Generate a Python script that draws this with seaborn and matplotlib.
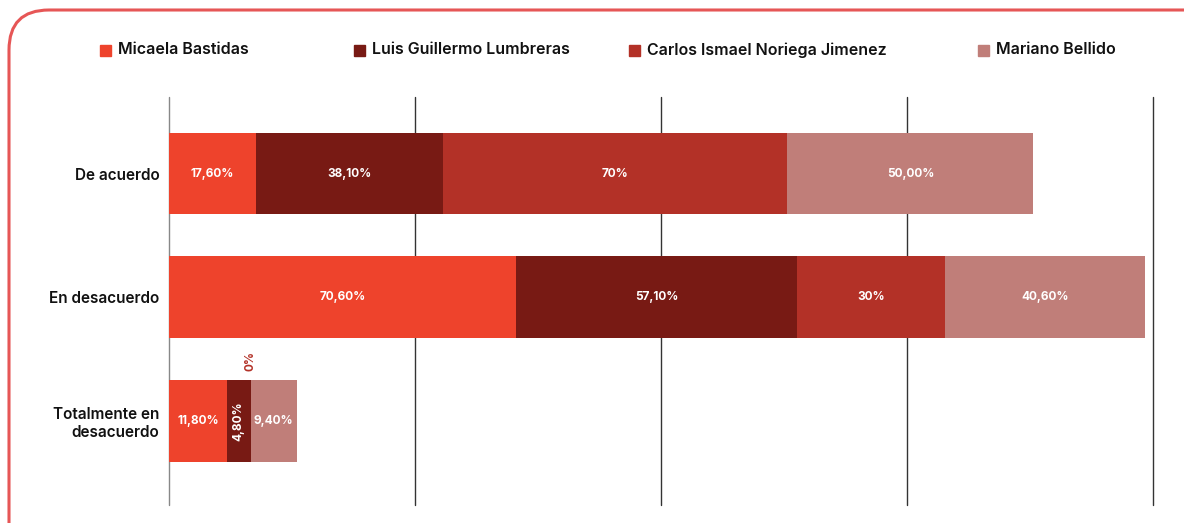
import numpy as np
import pandas as pd
import matplotlib.pyplot as plt
import seaborn as sns
from matplotlib.patches import FancyBboxPatch, Rectangle
from matplotlib.transforms import IdentityTransform

categories = ['De acuerdo', 'En desacuerdo', 'Totalmente en\ndesacuerdo']
series = ['Micaela Bastidas', 'Luis Guillermo Lumbreras',
          'Carlos Ismael Noriega Jimenez', 'Mariano Bellido']
micaela = [17.6, 70.6, 11.8]
luis = [38.1, 57.1, 4.8]
carlos = [70.0, 30.0, 0.0]
mariano = [50.0, 40.6, 9.4]
labels = [['17,60%', '70,60%', '11,80%'],
          ['38,10%', '57,10%', '4,80%'],
          ['70%', '30%', '0%'],
          ['50,00%', '40,60%', '9,40%']]
colors = ['#ee432c', '#781a14', '#b33127', '#c07e79']

sns.set_theme(style='white')
plt.rcParams['font.family'] = ['Inter', 'DejaVu Sans']

df = pd.DataFrame({'cat': categories, series[0]: micaela, series[1]: luis,
                   series[2]: carlos, series[3]: mariano})
vals = df[series].values
cum = vals.cumsum(axis=1)

fig = plt.figure(figsize=(11.84, 5.23), dpi=100)
ax = fig.add_axes([169 / 1184, 1 - 505 / 523, (1153 - 169) / 1184, (505 - 97) / 523])

# stacked bars: draw cumulative totals, largest first
for i in range(len(series) - 1, -1, -1):
    sns.barplot(x=cum[:, i], y=df['cat'], color=colors[i], orient='h',
                width=0.66, saturation=1, linewidth=0, ax=ax, zorder=3)

ax.set_xlim(0, 200)
ax.set_ylim(2.68, -0.62)
for g in [0, 50, 100, 150, 200]:
    ax.axvline(g, color='#888888' if g == 0 else '#333333', lw=1, zorder=1, clip_on=False)
for s in ax.spines.values():
    s.set_visible(False)
ax.set_xticks([])
ax.set_xlabel('')
ax.set_ylabel('')
ax.tick_params(axis='y', length=0, pad=7)
ax.set_yticklabels(categories, fontsize=11, fontweight='semibold', color='#111111')

# value labels
for j in range(len(categories)):
    for i in range(len(series)):
        v = vals[j, i]
        mid = cum[j, i] - v / 2
        if v == 0:
            ax.text(mid, -0.40 + j, labels[i][j], rotation=90, ha='center', va='bottom',
                    color='#b33127', fontsize=8.5, fontweight='bold', zorder=5)
        elif v < 8:
            ax.text(mid, j, labels[i][j], rotation=90, ha='center', va='center',
                    color='white', fontsize=8.5, fontweight='bold', zorder=5)
        else:
            ax.text(mid, j, labels[i][j], ha='center', va='center',
                    color='white', fontsize=8.5, fontweight='bold', zorder=5)

# legend
leg_x = [100, 354, 629, 978]
for i, name in enumerate(series):
    fig.patches.append(Rectangle((leg_x[i], 523 - 56), 11, 11, color=colors[i],
                                 transform=IdentityTransform(), figure=fig))
    fig.text((leg_x[i] + 18) / 1184, 1 - 50 / 523, name, ha='left', va='center',
             fontsize=11.5, fontweight='semibold', color='#111111')

# rounded frame
frame = FancyBboxPatch((9, -40), 1220, 553, boxstyle='round,pad=0,rounding_size=40',
                       fill=False, edgecolor='#e65656', lw=2.2,
                       transform=IdentityTransform(), figure=fig)
fig.patches.append(frame)

fig.savefig('out.png', dpi=100)
